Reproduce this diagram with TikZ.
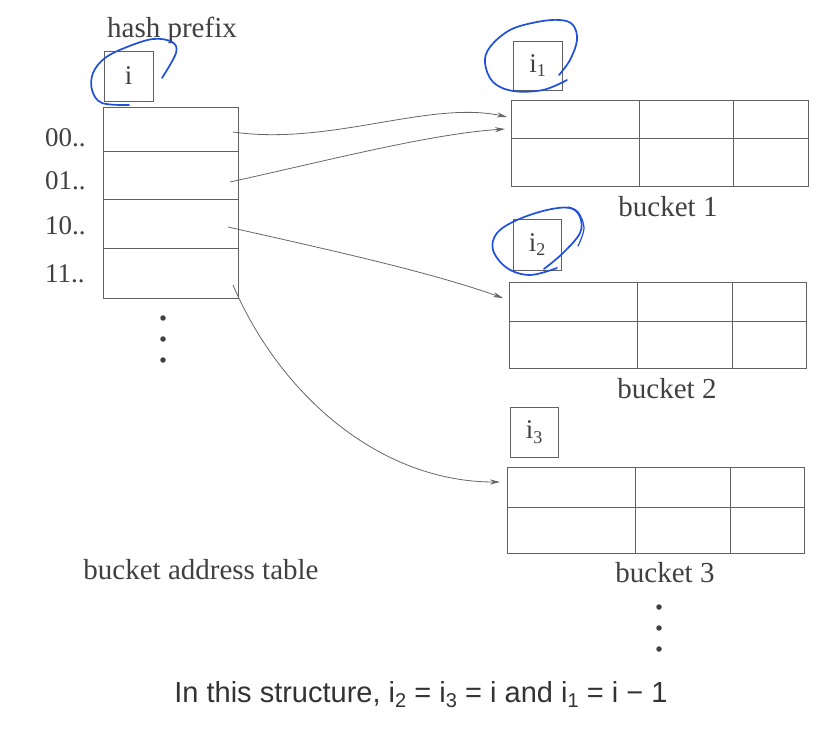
\documentclass[tikz,border=0pt]{standalone}
\usepackage{fontspec}
\setmainfont{Liberation Serif}
\newfontfamily\capfont{Liberation Sans}
\usetikzlibrary{arrows.meta}
\newcommand{\idx}[1]{i\raisebox{-0.35ex}{\fontsize{18}{18}\selectfont #1}}
\newcommand{\capidx}[1]{i\raisebox{-0.35ex}{\fontsize{20}{20}\selectfont #1}}
\newcommand{\capeq}{\hspace{0.28em}=\hspace{0.28em}}
\begin{document}
\begin{tikzpicture}[x=1pt,y=-1pt,
  lbl/.style={font=\fontsize{29}{31}\selectfont, text=black!75, inner sep=0pt},
  num/.style={font=\fontsize{27}{28}\selectfont, text=black!75, inner sep=0pt},
  cell/.style={draw=black!62, line width=0.9pt, inner sep=0pt, outer sep=0pt},
  ibox/.style={cell, font=\fontsize{27}{28}\selectfont, text=black!75},
  inner/.style={draw=black!62, line width=0.9pt},
  ann/.style={draw={rgb,255:red,30;green,80;blue,220}, line width=1.7pt, line cap=round},
  arr/.style={draw=black!60, line width=0.8pt, -{Stealth[length=10pt,width=5pt]}},
  dot/.style={circle, fill=black!75, inner sep=0pt, minimum size=5.5pt}]
\useasboundingbox (0,0) rectangle (830,730);
\fill[white] (0,0) rectangle (830,730);

% hash prefix and i box
\node[lbl, anchor=base] (hp) at (172,38) {hash prefix};
\node[ibox, minimum width=49pt, minimum height=50pt] (ib) at (128.5,76) {i};

% bucket address table
\node[cell, minimum width=135pt, minimum height=44pt] (r0) at (170.5,129) {};
\node[cell, minimum width=135pt, minimum height=48pt] (r1) at (170.5,175) {};
\node[cell, minimum width=135pt, minimum height=49pt] (r2) at (170.5,223.5) {};
\node[cell, minimum width=135pt, minimum height=50pt] (r3) at (170.5,273) {};

\node[num, anchor=base west] (l0) at (45,147) {00..};
\node[num, anchor=base west] (l1) at (45,190) {01..};
\node[num, anchor=base west] (l2) at (45,235) {10..};
\node[num, anchor=base west] (l3) at (45,283) {11..};

\node[dot] (d1) at (163,318) {};
\node[dot] (d2) at (163,339) {};
\node[dot] (d3) at (163,360) {};

\node[lbl, anchor=base] (bat) at (201,579) {bucket address table};

% bucket 1
\node[ibox, minimum width=49pt, minimum height=49pt] (i1) at (537.5,65.5) {\idx{1}};
\node[cell, minimum width=297pt, minimum height=86pt] (b1) at (659.5,143) {};
\draw[inner] (511,138) -- (808,138) (639,100) -- (639,186) (733,100) -- (733,186);
\node[lbl, anchor=base] (bl1) at (668,217) {bucket 1};

% bucket 2
\node[ibox, minimum width=48pt, minimum height=51pt] (i2) at (537,244.5) {\idx{2}};
\node[cell, minimum width=297pt, minimum height=86pt] (b2) at (657.5,325) {};
\draw[inner] (509,321) -- (806,321) (637,282) -- (637,368) (732,282) -- (732,368);
\node[lbl, anchor=base] (bl2) at (667,398) {bucket 2};

% bucket 3
\node[ibox, minimum width=48pt, minimum height=50pt] (i3) at (534,432) {\idx{3}};
\node[cell, minimum width=297pt, minimum height=86pt] (b3) at (655.5,510) {};
\draw[inner] (507,507) -- (804,507) (635,467) -- (635,553) (730,467) -- (730,553);
\node[lbl, anchor=base] (bl3) at (665,582) {bucket 3};

\node[dot] (e1) at (659,607) {};
\node[dot] (e2) at (659,628) {};
\node[dot] (e3) at (659,649) {};

% arrows
\draw[arr] ([xshift=-5pt,yshift=-3pt]r0.east) .. controls (330,146) and (430,100) .. ([xshift=-4pt,yshift=26pt]b1.west);
\draw[arr] ([xshift=-8pt,yshift=-7pt]r1.east) .. controls (330,160) and (430,134) .. ([xshift=-6pt,yshift=14pt]b1.west);
\draw[arr] ([xshift=-10pt,yshift=-3.5pt]r2.east) .. controls (330,250) and (430,272) .. ([xshift=-6pt,yshift=27pt]b2.west);
\draw[arr] ([xshift=-5pt,yshift=-12pt]r3.east) .. controls (280,395) and (380,482) .. ([xshift=-7pt,yshift=28pt]b3.west);

% caption
\node[font=\capfont\fontsize{29}{31}\selectfont, text=black!80, anchor=base, inner sep=0pt] (cap) at (421,702)
  {In this structure, \capidx{2}\capeq\capidx{3}\capeq i and \capidx{1}\capeq i\hspace{0.28em}−\hspace{0.28em}1};

% hand-drawn annotations
\draw[ann] plot[smooth, tension=0.6] coordinates {(162,78) (176,53) (172,42) (153,39) (127,47) (105,58) (93,73) (92,90) (102,103) (129,105)};
\draw[ann] plot[smooth, tension=0.6] coordinates {(559,75) (570,60) (577,40) (573,25) (560,20) (537,22) (510,30) (490,47) (485,63) (493,82) (513,91) (543,90) (567,80)};
\draw[ann] plot[smooth, tension=0.6] coordinates {(544,269) (563,253) (580,233) (580,217) (570,208) (547,210) (517,220) (497,233) (493,250) (507,268) (530,275) (557,268)};
\draw[ann, line width=1.2pt] plot[smooth, tension=0.6] coordinates {(568,207) (578,212) (584,228) (578,246)};
\end{tikzpicture}
\end{document}
